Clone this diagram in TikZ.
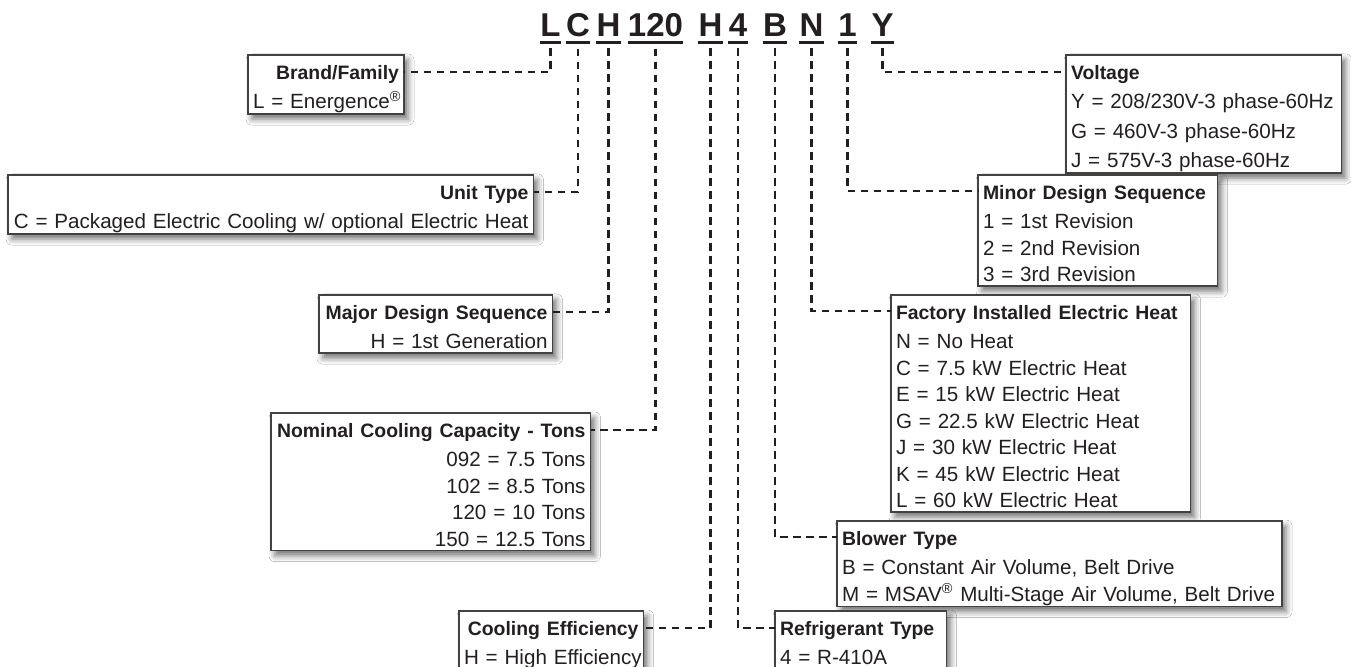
\documentclass[tikz,border=0pt]{standalone}
\usepackage{fontspec}
\setmainfont{Liberation Sans}
\usetikzlibrary{calc,shadows.blur}
\definecolor{ink}{HTML}{231F20}
\newcommand{\rs}{\rule[-1.65pt]{0pt}{13.25pt}}
\newcommand{\ttl}[1]{\mbox{\fontsize{9.7}{13.25}\selectfont\bfseries #1}\rs}
\newcommand{\rw}[1]{\mbox{#1}\rs}

\begin{document}
\begin{tikzpicture}[x=0.5pt,y=-0.5pt,
  code/.style={inner sep=0pt,anchor=base,text=ink,font=\fontsize{16.5}{18}\selectfont\bfseries},
  uline/.style={ink,line width=1.4pt},
  lbox/.style={draw=ink!85,line width=0.75pt,fill=white,inner xsep=2.5pt,inner ysep=0.6pt,outer sep=0pt,text=ink,font=\fontsize{10.3}{13.25}\selectfont,
    blur shadow={shadow xshift=2pt,shadow yshift=-2.5pt,shadow blur radius=3pt,shadow opacity=55}},
  leftbox/.style={lbox,anchor=north west,align=right},
  rightbox/.style={lbox,anchor=north west,align=left},
  lead/.style={ink,line width=1.25pt,dash pattern=on 3.75pt off 2.75pt}]
\path[use as bounding box,fill=white] (0,0) rectangle (1351,667);
% model number
\node[code] (cL) at (550.5,37) {L};
\node[code] (cC) at (578,37) {C};
\node[code] (cH) at (608.5,37) {H};
\node[code] (cT) at (655.5,37) {120};
\node[code] (cE) at (710.5,37) {H};
\node[code] (cR) at (738,37) {4};
\node[code] (cB) at (775,37) {B};
\node[code] (cN) at (811.5,37) {N};
\node[code] (cM) at (847.5,37) {1};
\node[code] (cV) at (882.5,37) {Y};
\foreach \n in {cL,cC,cH,cT,cE,cR,cB,cN,cM,cV}
  \draw[uline] ([yshift=-2.5pt]\n.south west) -- ([yshift=-2.5pt]\n.south east);
% left boxes
\node[leftbox,text width=73pt] (brand) at (248,55) {\ttl{Brand/Family}\\\rw{L = Energence\textsuperscript{\textregistered}}};
\node[leftbox,text width=257.75pt] (unit) at (8,175) {\ttl{Unit Type}\\\rw{C = Packaged Electric Cooling w/ optional Electric Heat}};
\node[leftbox,text width=111.75pt] (major) at (319,295) {\ttl{Major Design Sequence}\\\rw{H = 1st Generation}};
\node[leftbox,text width=154.75pt] (tons) at (271,413) {\ttl{Nominal Cooling Capacity - Tons}\\\rw{092 = 7.5 Tons}\\\rw{102 = 8.5 Tons}\\\rw{120 = 10 Tons}\\\rw{150 = 12.5 Tons}};
\node[leftbox,text width=87.25pt] (eff) at (459,611) {\ttl{Cooling Efficiency}\\\rw{H = High Efficiency}};
% right boxes
\node[rightbox,text width=132.75pt] (volt) at (1066,55) {\ttl{Voltage}\\\rw{Y = 208/230V-3 phase-60Hz}\\\rw{G = 460V-3 phase-60Hz}\\\rw{J = 575V-3 phase-60Hz}};
\node[rightbox,text width=114.75pt] (minor) at (978,175) {\ttl{Minor Design Sequence}\\\rw{1 = 1st Revision}\\\rw{2 = 2nd Revision}\\\rw{3 = 3rd Revision}};
\node[rightbox,text width=144.75pt] (heat) at (891,295) {\ttl{Factory Installed Electric Heat}\\\rw{N = No Heat}\\\rw{C = 7.5 kW Electric Heat}\\\rw{E = 15 kW Electric Heat}\\\rw{G = 22.5 kW Electric Heat}\\\rw{J = 30 kW Electric Heat}\\\rw{K = 45 kW Electric Heat}\\\rw{L = 60 kW Electric Heat}};
\node[rightbox,text width=217.5pt] (blower) at (837,521) {\ttl{Blower Type}\\\rw{B = Constant Air Volume, Belt Drive}\\\rw{M = MSAV\textsuperscript{\textregistered} Multi-Stage Air Volume, Belt Drive}};
\node[rightbox,text width=80.75pt] (refr) at (775,611) {\ttl{Refrigerant Type}\\\rw{4 = R-410A}};
% leaders
\draw[lead] ([yshift=-5.5pt]cL.south) |- ([yshift=-8.5pt]brand.north east);
\draw[lead] ([yshift=-5.5pt]cC.south) |- ([yshift=-8.5pt]unit.north east);
\draw[lead] ([yshift=-5.5pt]cH.south) |- ([yshift=-8.5pt]major.north east);
\draw[lead] ([yshift=-5.5pt]cT.south) |- ([yshift=-8.5pt]tons.north east);
\draw[lead] ([yshift=-5.5pt]cE.south) |- ([yshift=-8.5pt]eff.north east);
\draw[lead] ([yshift=-5.5pt]cR.south) |- ([yshift=-8.5pt]refr.north west);
\draw[lead] ([yshift=-5.5pt]cB.south) |- ([yshift=-8pt]blower.north west);
\draw[lead] ([yshift=-5.5pt]cN.south) |- ([yshift=-8pt]heat.north west);
\draw[lead] ([yshift=-5.5pt]cM.south) |- ([yshift=-8pt]minor.north west);
\draw[lead] ([yshift=-5.5pt]cV.south) |- ([yshift=-8.5pt]volt.north west);
\end{tikzpicture}
\end{document}
